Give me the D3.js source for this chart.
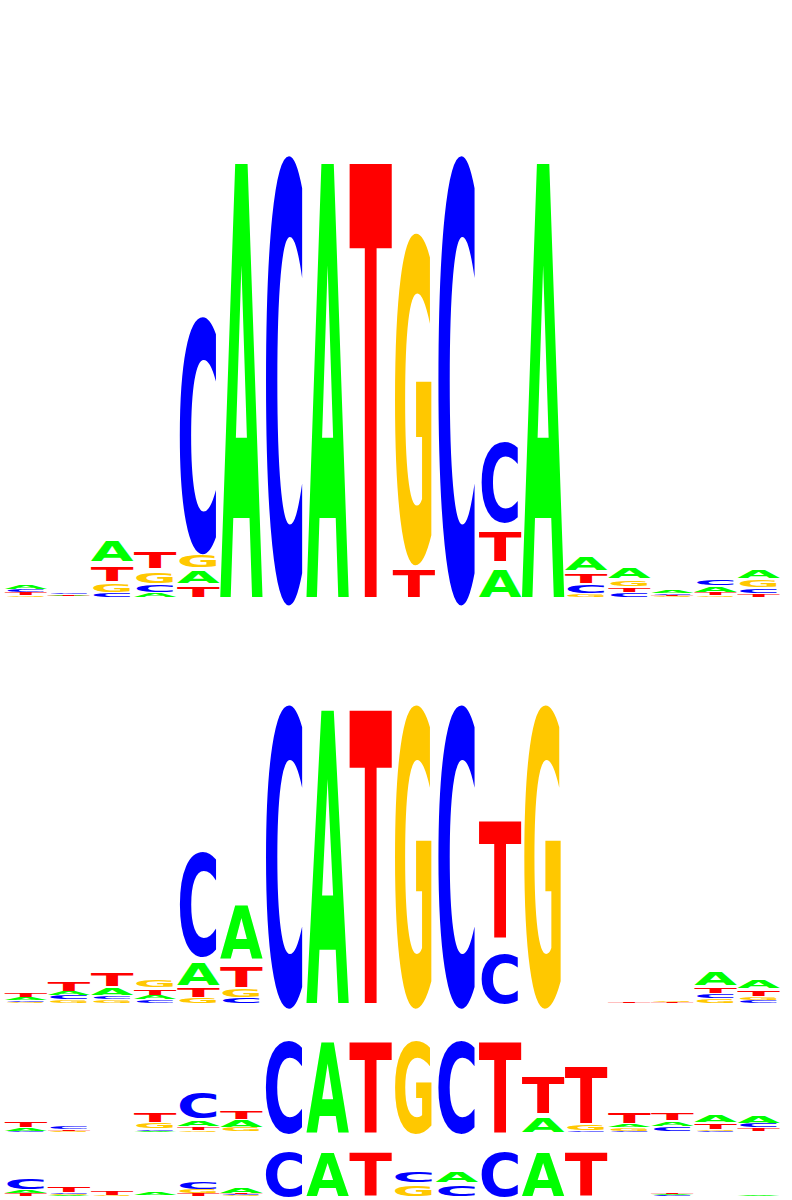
<!DOCTYPE html>
<html>
<head>
<meta charset="utf-8">
<script src="https://cdn.jsdelivr.net/npm/d3@7"></script>
<style>
  body { margin: 0; background: #fff; }
  svg { display: block; }
</style>
</head>
<body>
<div id="chart"></div>
<script>
// positions 1..18 of the motif
const positions = d3.range(1, 19)
const bases = ['A', 'C', 'G', 'T']

// information (bits) per base and position
// logo 1
const logo1A = [0.018, 0.003, 0.087, 0.018, 0.055, 1.99, 0, 1.99, 0, 0, 0, 0.122, 1.99, 0.061, 0.046, 0.011, 0.021, 0.038]
const logo1C = [0.009, 0.005, 0.018, 0.028, 1.05, 0, 1.99, 0, 0, 0, 1.99, 0.36, 0, 0.036, 0.018, 0.006, 0.022, 0.02]
const logo1G = [0.008, 0.002, 0.034, 0.05, 0.056, 0, 0, 0, 0, 1.468, 0, 0, 0, 0.012, 0.026, 0.003, 0.007, 0.028]
const logo1T = [0.0085, 0.004, 0.067, 0.069, 0.047, 0, 0, 0, 1.99, 0.127, 0, 0.131, 0, 0.043, 0.019, 0.004, 0.011, 0.014]

// logo 2
const logo2A = [0.015, 0.022, 0.045, 0.021, 0.15, 0.358, 0, 1.99, 0, 0, 0, 0, 0, 0, 0, 0, 0.09, 0.052]
const logo2C = [0.01, 0.021, 0.02, 0.018, 0.687, 0.031, 1.99, 0, 0, 0, 1.99, 0.329, 0, 0, 0, 0, 0.025, 0.016]
const logo2G = [0.007, 0.018, 0.018, 0.043, 0.031, 0.05, 0, 0, 0, 1.99, 0, 0, 1.99, 0, 0, 0.007, 0.024, 0.018]
const logo2T = [0.023, 0.057, 0.086, 0.038, 0.058, 0.136, 0, 0, 1.99, 0, 0, 0.787, 0, 0, 0.008, 0.005, 0.038, 0.038]

// logo 3
const logo3A = [0.06, 0, 0, 0.021, 0.123, 0.13, 0, 1.99, 0, 0, 0, 0, 0.313, 0, 0.065, 0.097, 0.149, 0.133]
const logo3C = [0.02, 0.055, 0, 0.039, 0.542, 0.01, 1.99, 0, 0, 0, 1.99, 0, 0, 0.032, 0.024, 0.086, 0.02, 0.072]
const logo3G = [0, 0.016, 0, 0.107, 0.032, 0.076, 0, 0, 0, 1.99, 0, 0, 0, 0.118, 0.06, 0.01, 0.035, 0.01]
const logo3T = [0.111, 0.03, 0, 0.187, 0.065, 0.169, 0, 0, 1.99, 0, 0, 1.99, 0.8, 1.244, 0.222, 0.127, 0.107, 0.068]

// logo 4
const logo4A = [0.115, 0.03, 0, 0.1, 0, 0.233, 0, 1.99, 0, 0, 0.47, 0, 1.99, 0, 0, 0.03, 0, 0.04]
const logo4C = [0.447, 0.06, 0, 0, 0.295, 0.035, 1.99, 0, 0, 0.47, 0.465, 1.99, 0, 0, 0, 0.025, 0, 0]
const logo4G = [0, 0.045, 0.05, 0.02, 0.153, 0.03, 0, 0, 0, 0.465, 0, 0, 0, 0, 0, 0, 0, 0]
const logo4T = [0.112, 0.233, 0.18, 0, 0.092, 0.05, 0, 0, 1.99, 0, 0, 0, 0, 1.99, 0, 0.045, 0, 0]

const logos = [
  { A: logo1A, C: logo1C, G: logo1G, T: logo1T },
  { A: logo2A, C: logo2C, G: logo2G, T: logo2T },
  { A: logo3A, C: logo3C, G: logo3G, T: logo3T },
  { A: logo4A, C: logo4C, G: logo4G, T: logo4T },
]

// pixel band of each logo: baseline and 2-bit line
const panelBands = [
  [597, 0],
  [1003, 600],
  [1132, 1008.5],
  [1196, 1137],
]

const baseColors = { A: '#00ff00', C: '#0000ff', G: '#ffc800', T: '#ff0000' }

const width = 792
const height = 1200
const fontFamily = 'DejaVu Sans'
const fontSize = 100

// advance widths so every glyph can be stretched over its column
const ctx = document.createElement('canvas').getContext('2d')
ctx.font = `bold ${fontSize}px "${fontFamily}"`
const advance = {}
bases.forEach(b => {
  advance[b] = ctx.measureText(b).width
})

const x = d3.scaleBand().domain(positions).range([4.5, 780]).paddingInner(0.008)

const svg = d3
  .select('#chart')
  .append('svg')
  .attr('width', width)
  .attr('height', height)
  .attr('viewBox', `0 0 ${width} ${height}`)
  .style('background', '#fff')

logos.forEach((logo, li) => {
  const y = d3.scaleLinear().domain([0, 2]).range(panelBands[li])
  const g = svg.append('g').attr('class', `logo logo-${li + 1}`)

  positions.forEach((pos, i) => {
    const stack = bases
      .map(b => ({ base: b, bits: logo[b][i] }))
      .filter(d => d.bits > 0)
      .sort((a, b) => a.bits - b.bits)

    let cum = 0
    stack.forEach(d => {
      d.y0 = cum
      cum += d.bits
      d.y1 = cum
    })

    g.append('g')
      .attr('class', `pos-${pos}`)
      .selectAll('text')
      .data(stack)
      .join('text')
      .attr('x', 0)
      .attr('y', 0)
      .attr('font-family', fontFamily)
      .attr('font-weight', 'bold')
      .attr('font-size', fontSize)
      .attr('fill', d => baseColors[d.base])
      .attr('transform', d => {
        const h = y(d.y0) - y(d.y1)
        const sx = x.bandwidth() / advance[d.base]
        return `translate(${x(pos)}, ${y(d.y0)}) scale(${sx}, ${h / fontSize})`
      })
      .text(d => d.base)
  })
})
</script>
</body>
</html>
